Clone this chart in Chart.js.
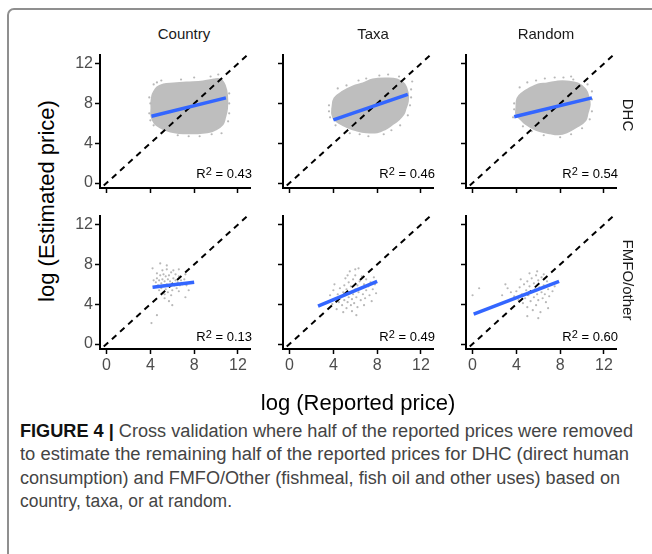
<!DOCTYPE html>
<html>
<head>
<meta charset="utf-8">
<script src="https://cdn.jsdelivr.net/npm/chart.js@4.4.0/dist/chart.umd.min.js"></script>
<style>
  html, body { margin: 0; padding: 0; background: #fff; }
  body { width: 652px; height: 554px; position: relative; overflow: hidden; font-family: "Liberation Sans", Arial, sans-serif; }
  .frame { position: absolute; left: 7px; top: 8px; width: 670px; height: 580px; border: 2px solid #8f8f8f; border-radius: 7px; box-sizing: border-box; }
  canvas { position: absolute; }
  .lbl { position: absolute; white-space: nowrap; color: #1a1a1a; }
  .strip { font-size: 15px; transform: translate(-50%, -50%); }
  .side { font-size: 15px; transform: translate(-50%, -50%) rotate(90deg); }
  .title { font-size: 22px; color: #000; transform: translate(-50%, -50%); }
  .ytitle { font-size: 22px; color: #000; transform: translate(-50%, -50%) rotate(-90deg); }
  .r2 { font-size: 13px; text-align: right; width: 160px; line-height: 13px; color: #000; }
  .r2 sup { font-size: 11px; line-height: 0; vertical-align: 3px; }
  .capline { position: absolute; left: 20px; width: max-content; font-size: 18px; line-height: 20px; color: #444; white-space: nowrap; transform-origin: 0 50%; }
  .capline b { color: #111; }
</style>
</head>
<body>
<div class="frame"></div>

<script>
// facets
const columns = ['Country', 'Taxa', 'Random']
const rows = ['DHC', 'FMFO/other']
const r2Values = [[0.43, 0.46, 0.54], [0.13, 0.49, 0.60]]
const xTicks = [0, 4, 8, 12]
const yTicks = [0, 4, 8, 12]

// blue fitted lines, [start, end]
const fitCountryDHC = [{x: 4.1, y: 6.7}, {x: 10.9, y: 8.55}]
const fitTaxaDHC = [{x: 4.0, y: 6.35}, {x: 10.8, y: 8.9}]
const fitRandomDHC = [{x: 3.8, y: 6.65}, {x: 10.9, y: 8.55}]
const fitCountryFM = [{x: 4.2, y: 5.7}, {x: 8.0, y: 6.2}]
const fitTaxaFM = [{x: 2.6, y: 3.8}, {x: 8.0, y: 6.3}]
const fitRandomFM = [{x: 0.1, y: 3.0}, {x: 7.9, y: 6.3}]

// outline of the dense DHC point clouds
const cloudCountryDHC = [[4.2,8.9],[4.6,9.6],[5.2,9.9],[6.1,10.0],[7.3,10.1],[8.8,10.2],[9.8,10.4],[10.4,10.4],[10.8,9.8],[11.0,8.8],[11.0,7.5],[10.8,6.5],[10.6,5.9],[10.0,5.4],[9.2,5.1],[8.0,5.0],[7.0,5.0],[6.2,5.1],[5.5,5.3],[4.9,5.6],[4.4,6.0],[4.1,6.7],[4.1,7.5],[4.1,8.2]]
const cloudTaxaDHC = [[3.9,7.5],[4.1,8.5],[4.9,9.2],[5.8,9.7],[6.7,10.0],[7.6,10.4],[8.8,10.5],[9.8,10.4],[10.5,9.9],[10.8,9.0],[10.8,8.2],[10.6,7.5],[10.4,6.9],[9.9,6.3],[9.4,5.9],[8.7,5.4],[8.0,5.1],[7.0,5.1],[6.1,5.3],[5.3,5.6],[4.6,6.0],[4.1,6.4],[3.9,6.9]]
const cloudRandomDHC = [[4.0,7.5],[4.1,8.5],[4.6,9.1],[5.2,9.5],[6.0,9.9],[6.8,10.0],[7.8,10.2],[8.6,10.2],[9.6,10.0],[10.3,9.4],[10.6,8.6],[10.7,7.9],[10.5,7.0],[10.3,6.3],[9.6,5.7],[8.6,5.1],[7.8,4.9],[7.1,5.0],[6.2,5.2],[5.5,5.5],[4.9,5.9],[4.5,6.3],[4.0,6.9]]

// loose points
const ptsCountryDHC = [[4.3,9.9],[3.9,7.0],[4.0,8.0],[5.0,10.3],[8.0,10.6],[9.5,10.7],[11.2,9.0],[11.2,7.0],[10.5,5.0],[8.5,4.7],[6.5,4.8],[5.0,5.0],[4.3,5.8],[10.2,10.9],[11.1,6.2],[3.9,8.6],[4.6,10.1],[6.8,10.4],[11.2,8.0],[9.6,4.9],[7.5,4.7],[4.0,6.3]]
const ptsTaxaDHC = [[3.6,7.8],[3.7,6.6],[4.4,9.5],[6.3,10.3],[8.2,10.8],[10.0,10.7],[11.1,9.4],[11.0,7.8],[10.1,5.8],[8.6,4.9],[7.2,4.7],[5.5,5.0],[4.2,5.8],[11.2,10.2],[9.0,10.9],[3.6,7.2],[5.2,9.8],[7.0,10.5],[11.1,8.6],[10.8,6.8],[9.3,5.3],[6.4,4.9]]
const ptsRandomDHC = [[3.8,8.0],[4.3,9.6],[5.0,10.1],[6.6,10.5],[8.3,10.6],[9.2,10.4],[10.5,9.9],[10.9,8.4],[10.9,7.2],[10.0,5.5],[8.0,4.6],[6.5,4.8],[4.6,5.7],[3.7,6.6],[9.0,10.7],[3.8,7.4],[5.8,10.3],[7.5,10.6],[10.9,9.2],[10.7,6.4],[9.0,4.9],[5.4,5.2]]
const ptsCountryFM = [[4.5,6.2],[4.6,6.6],[4.7,5.9],[4.8,6.4],[4.9,6.9],[5.0,6.1],[5.0,5.6],[5.1,6.5],[5.2,7.0],[5.2,5.9],[5.3,6.3],[5.4,5.5],[5.4,6.8],[5.5,6.0],[5.6,6.5],[5.6,5.2],[5.7,6.9],[5.8,5.8],[5.8,6.3],[5.9,7.2],[6.0,6.1],[6.0,5.4],[6.1,6.6],[6.2,5.9],[6.3,6.4],[6.3,7.0],[6.4,5.6],[6.5,6.2],[6.6,6.8],[6.7,5.9],[6.8,6.4],[4.4,5.7],[4.3,6.4],[4.6,7.1],[4.8,5.4],[5.1,7.4],[5.5,7.5],[6.1,7.4],[6.9,6.0],[7.1,6.5],[7.3,5.9],[7.6,6.2],[5.3,5.0],[5.9,4.9],[6.6,5.3],[4.9,8.1],[5.5,7.9],[6.6,7.5],[7.2,7.0],[5.3,4.6],[6.0,3.9],[4.6,2.9],[4.1,2.1],[7.2,4.7],[5.7,4.3],[7.5,5.4],[4.2,7.6]]
const ptsTaxaFM = [[4.2,4.5],[4.4,5.0],[4.5,4.2],[4.6,5.6],[4.7,4.7],[4.8,3.9],[4.9,5.2],[5.0,4.4],[5.0,5.9],[5.1,4.9],[5.2,3.6],[5.2,5.5],[5.3,4.2],[5.4,6.2],[5.4,4.7],[5.5,5.2],[5.6,3.9],[5.6,5.8],[5.7,4.5],[5.8,6.5],[5.8,5.0],[5.9,4.1],[6.0,5.5],[6.0,6.9],[6.1,4.7],[6.2,5.9],[6.2,3.7],[6.3,5.2],[6.4,6.3],[6.5,4.4],[6.5,5.6],[6.6,6.8],[6.7,5.0],[6.8,6.0],[6.9,4.6],[7.0,5.4],[7.0,6.5],[7.2,5.8],[7.3,4.9],[7.4,6.2],[7.6,5.5],[7.8,6.0],[7.9,5.1],[4.0,5.4],[3.9,4.0],[3.7,4.9],[4.3,3.5],[4.1,6.0],[5.5,7.3],[6.0,7.5],[6.3,7.6],[5.1,6.6],[4.9,3.2],[5.7,3.3],[6.8,3.9],[7.5,4.3],[6.1,2.9],[7.7,6.7],[5.3,6.9]]
const ptsRandomFM = [[0.0,4.9],[0.6,5.6],[2.7,4.9],[3.0,6.0],[3.2,5.6],[3.5,5.2],[3.8,4.8],[4.0,5.3],[4.2,4.4],[4.3,5.7],[4.5,5.0],[4.6,4.1],[4.7,6.0],[4.8,4.6],[4.9,5.4],[5.0,3.7],[5.0,6.3],[5.1,4.9],[5.2,5.8],[5.3,4.3],[5.4,6.6],[5.4,5.2],[5.5,3.4],[5.6,4.7],[5.6,6.1],[5.7,5.5],[5.8,3.9],[5.8,6.9],[5.9,5.0],[6.0,4.4],[6.0,6.4],[6.1,5.7],[6.2,3.2],[6.3,5.2],[6.3,6.7],[6.4,4.6],[6.5,5.9],[6.6,5.0],[6.7,4.2],[6.8,6.3],[6.9,5.5],[7.0,4.8],[7.1,6.0],[7.3,5.3],[7.5,5.8],[5.2,7.1],[5.9,7.3],[6.5,7.0],[4.4,6.5],[5.0,2.8],[6.0,2.6],[6.9,3.6]]

const captionLines = [
  '<b>FIGURE 4 |</b> Cross validation where half of the reported prices were removed',
  'to estimate the remaining half of the reported prices for DHC (direct human',
  'consumption) and FMFO/Other (fishmeal, fish oil and other uses) based on',
  'country, taxa, or at random.'
]
const captionWidths = [613, 609, 600, 212]

const xRange = [-0.6, 13.1]
const yRange = [-0.5, 12.9]

const panels = [
  [
    { cloud: cloudCountryDHC, pts: ptsCountryDHC, fit: fitCountryDHC },
    { cloud: cloudTaxaDHC, pts: ptsTaxaDHC, fit: fitTaxaDHC },
    { cloud: cloudRandomDHC, pts: ptsRandomDHC, fit: fitRandomDHC },
  ],
  [
    { cloud: null, pts: ptsCountryFM, fit: fitCountryFM },
    { cloud: null, pts: ptsTaxaFM, fit: fitTaxaFM },
    { cloud: null, pts: ptsRandomFM, fit: fitRandomFM },
  ]
]

const colLeft = [100, 283, 466]
const rowTop = [53, 214]
const panelW = 150
const gray = '#bebebe'

Chart.defaults.font.family = '"Liberation Sans", Arial, sans-serif'
Chart.defaults.animation = false

const toXY = arr => arr.map(p => ({ x: p[0], y: p[1] }))

function axisOpts(range, ticks, showLabels, isX) {
  return {
    type: 'linear',
    min: range[0],
    max: range[1],
    afterBuildTicks: scale => { scale.ticks = ticks.map(v => ({ value: v })) },
    afterFit: scale => {
      if (isX) scale.height = 30
      else scale.width = 40
    },
    border: { display: true, color: '#000', width: 2 },
    grid: { display: true, drawOnChartArea: false, drawTicks: true, tickLength: 5, tickWidth: 1.5, tickColor: '#000' },
    ticks: {
      color: '#4d4d4d',
      font: { size: 16 },
      padding: 2,
      maxRotation: 0,
      autoSkip: false,
      callback: v => showLabels ? String(v) : ''
    }
  }
}

function makePanel(r, c) {
  const p = panels[r][c]
  const canvas = document.createElement('canvas')
  canvas.width = 200
  canvas.height = 175
  canvas.style.left = (colLeft[c] - 40) + 'px'
  canvas.style.top = (rowTop[r] - 10) + 'px'
  canvas.style.width = '200px'
  canvas.style.height = '175px'
  document.body.appendChild(canvas)

  const datasets = [
    {
      label: 'fit',
      data: p.fit,
      showLine: true,
      borderColor: '#3366ff',
      borderWidth: 3.5,
      pointRadius: 0,
      order: 0
    },
    {
      label: 'identity',
      data: [{ x: -1, y: -1 }, { x: 14, y: 14 }],
      showLine: true,
      borderColor: '#000',
      borderWidth: 2,
      borderDash: [6, 5],
      pointRadius: 0,
      order: 1
    },
    {
      label: 'points',
      data: toXY(p.pts),
      backgroundColor: '#b8b8b8',
      borderWidth: 0,
      pointRadius: 1.1,
      order: 2
    }
  ]
  if (p.cloud) {
    datasets.push({
      label: 'cloud',
      data: toXY(p.cloud.concat([p.cloud[0]])),
      showLine: true,
      fill: 'shape',
      tension: 0.4,
      backgroundColor: gray,
      borderColor: gray,
      borderWidth: 2,
      pointRadius: 0,
      order: 3
    })
  }

  new Chart(canvas, {
    type: 'scatter',
    data: { datasets: datasets },
    options: {
      responsive: false,
      animation: false,
      layout: { padding: { left: 0, top: 10, right: 10, bottom: 0 } },
      plugins: { legend: { display: false }, tooltip: { enabled: false } },
      scales: {
        x: axisOpts(xRange, xTicks, r === 1, true),
        y: axisOpts(yRange, yTicks, c === 0, false)
      }
    }
  })
}

for (let r = 0; r < rows.length; r++) {
  for (let c = 0; c < columns.length; c++) makePanel(r, c)
}

function addLabel(cls, html, x, y) {
  const d = document.createElement('div')
  d.className = 'lbl ' + cls
  d.innerHTML = html
  d.style.left = x + 'px'
  d.style.top = y + 'px'
  document.body.appendChild(d)
  return d
}

const stripX = [184, 373, 546]
columns.forEach((name, c) => addLabel('strip', name, stripX[c], 33))
const sideY = [115, 280]
rows.forEach((name, r) => addLabel('side', name, 628, sideY[r]))

const r2Top = [167, 330]
for (let r = 0; r < rows.length; r++) {
  for (let c = 0; c < columns.length; c++) {
    addLabel('r2', 'R<sup>2</sup> = ' + r2Values[r][c].toFixed(2), colLeft[c] + panelW + 2 - 160, r2Top[r])
  }
}

addLabel('title', 'log (Reported price)', 358, 403)
addLabel('ytitle', 'log (Estimated price)', 47, 201)

// caption lines squeezed to the widths they have in the figure (condensed face)
captionLines.forEach((html, i) => {
  const d = document.createElement('div')
  d.className = 'capline'
  d.innerHTML = html
  d.style.top = (421 + i * 23.3) + 'px'
  document.body.appendChild(d)
  const w = d.getBoundingClientRect().width
  d.style.transform = 'scaleX(' + (captionWidths[i] / w) + ')'
})
</script>
</body>
</html>
